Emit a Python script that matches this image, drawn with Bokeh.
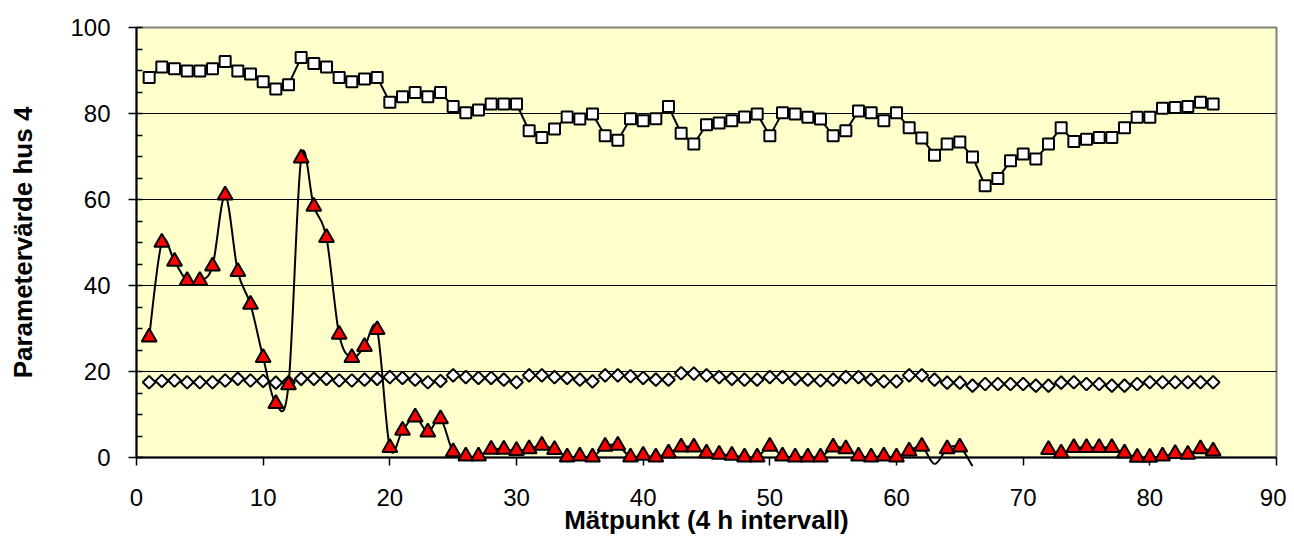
import math
from bokeh.plotting import figure
from bokeh.models import Range1d, SingleIntervalTicker, ColumnDataSource, CDSView, BooleanFilter
from bokeh.embed import file_html
from bokeh.resources import INLINE

# ---- data ----
matpunkt = list(range(1, 86))

squares = [88.4, 90.8, 90.4, 89.9, 89.9, 90.4, 92.1, 89.9, 89.2, 87.4,
           85.7, 86.7, 93.0, 91.6, 90.8, 88.4, 87.4, 88.0, 88.4, 82.6,
           83.9, 84.9, 83.9, 84.9, 81.6, 80.2, 80.8, 82.2, 82.2, 82.2,
           76.0, 74.4, 76.4, 79.2, 78.7, 79.9, 74.8, 73.8, 78.8, 78.3,
           78.8, 81.6, 75.4, 72.9, 77.4, 77.8, 78.3, 79.2, 79.9, 74.8,
           80.2, 79.9, 79.1, 78.7, 74.8, 76.0, 80.6, 80.2, 78.3, 80.2,
           76.7, 74.3, 70.3, 72.9, 73.4, 69.9, 63.2, 64.9, 69.0, 70.6,
           69.4, 72.9, 76.7, 73.5, 74.0, 74.4, 74.4, 76.7, 79.1, 79.1,
           81.2, 81.4, 81.6, 82.6, 82.2]

diamonds = [17.5, 17.8, 17.9, 17.5, 17.5, 17.5, 17.9, 18.3, 17.9, 17.8,
            17.4, 17.5, 18.3, 18.3, 18.3, 17.9, 17.9, 18.1, 18.3, 18.7,
            18.5, 18.1, 17.5, 17.8, 19.1, 18.7, 18.5, 18.5, 18.1, 17.5,
            19.1, 19.1, 18.7, 18.5, 18.1, 17.7, 19.1, 19.1, 18.9, 18.5,
            18.1, 18.1, 19.6, 19.5, 19.1, 18.7, 18.3, 18.1, 18.1, 18.7,
            18.7, 18.3, 18.1, 17.9, 18.1, 18.7, 18.7, 18.1, 17.7, 17.7,
            19.1, 19.1, 18.1, 17.4, 17.4, 16.7, 17.1, 17.1, 17.1, 17.1,
            16.7, 16.7, 17.4, 17.5, 17.1, 17.1, 16.7, 16.7, 17.1, 17.5,
            17.5, 17.5, 17.5, 17.5, 17.5]

nan = float("nan")
triangles = [28.0, 50.0, 45.6, 41.1, 41.1, 44.5, 61.0, 43.2, 35.6, 23.2,
             12.5, 16.9, 69.6, 58.4, 51.1, 28.6, 23.2, 25.8, 29.7, 2.3,
             6.3, 9.4, 5.9, 9.0, 1.3, 0.3, 0.3, 1.9, 1.9, 1.6,
             2.0, 2.8, 1.8, 0.1, 0.3, 0.1, 2.6, 2.8, 0.1, 0.5,
             0.1, 1.0, 2.4, 2.4, 1.0, 0.7, 0.5, 0.1, 0.1, 2.6,
             0.3, 0.1, 0.1, 0.1, 2.4, 2.0, 0.3, 0.1, 0.3, 0.1,
             1.5, 2.6, -1.5, 2.0, 2.4, -2.0, nan, nan, nan, nan,
             nan, 1.8, 1.0, 2.3, 2.3, 2.3, 2.3, 1.0, 0.0, 0.0,
             0.3, 0.9, 0.7, 2.0, 1.5]

x_ticks_interval = 10
y_ticks_interval = 20

FONT = "Liberation Sans"


def smooth_segments(xs, ys):
    """Catmull-Rom style Bezier control points (Excel 'smoothed line')."""
    n = len(xs)
    ok = lambda i: 0 <= i < n and not math.isnan(ys[i])
    d = dict(x0=[], y0=[], x1=[], y1=[], cx0=[], cy0=[], cx1=[], cy1=[])
    for i in range(n - 1):
        if not (ok(i) and ok(i + 1)):
            continue
        pm = i - 1 if ok(i - 1) else i
        pp = i + 2 if ok(i + 2) else i + 1
        d["x0"].append(xs[i]); d["y0"].append(ys[i])
        d["x1"].append(xs[i + 1]); d["y1"].append(ys[i + 1])
        d["cx0"].append(xs[i] + (xs[i + 1] - xs[pm]) / 6)
        d["cy0"].append(ys[i] + (ys[i + 1] - ys[pm]) / 6)
        d["cx1"].append(xs[i + 1] - (xs[pp] - xs[i]) / 6)
        d["cy1"].append(ys[i + 1] - (ys[pp] - ys[i]) / 6)
    return d


p = figure(width=1286, height=548, output_backend="svg", toolbar_location=None,
           x_range=Range1d(0, 90), y_range=Range1d(0, 100),
           min_border_left=136, min_border_right=10, min_border_top=27, min_border_bottom=91,
           background_fill_color="#FFFFCC", border_fill_color="white",
           outline_line_color="#808080", outline_line_width=2)

# axes
p.xaxis.ticker = SingleIntervalTicker(interval=x_ticks_interval, num_minor_ticks=0)
p.yaxis.ticker = SingleIntervalTicker(interval=y_ticks_interval, num_minor_ticks=4)
for ax in (p.xaxis[0], p.yaxis[0]):
    ax.axis_line_color = "black"
    ax.axis_line_width = 2
    ax.major_tick_line_color = "black"
    ax.major_tick_line_width = 1.5
    ax.major_tick_out = 8
    ax.major_tick_in = 0
    ax.minor_tick_line_color = "black"
    ax.minor_tick_line_width = 1.5
    ax.minor_tick_in = 6
    ax.minor_tick_out = 0
    ax.major_label_text_font = FONT
    ax.major_label_text_font_size = "24px"
    ax.major_label_text_color = "black"
    ax.axis_label_text_font = FONT
    ax.axis_label_text_font_size = "26px"
    ax.axis_label_text_font_style = "bold"
    ax.axis_label_text_color = "black"

p.xaxis.axis_label = "Mätpunkt (4 h intervall)"
p.yaxis.axis_label = "Parametervärde hus 4"
p.yaxis.major_label_standoff = 18
p.xaxis.major_label_standoff = 23
p.yaxis.axis_label_standoff = 29
p.xaxis.axis_label_standoff = -4

p.xgrid.visible = False
p.ygrid.grid_line_color = "black"
p.ygrid.grid_line_width = 1

# squares series
rs1 = p.line(matpunkt, squares, line_color="black", line_width=2)
ms1 = p.scatter(matpunkt, squares, marker="square", size=11, fill_color="white",
                line_color="black", line_width=2)

# diamonds series
rs2 = p.line(matpunkt, diamonds, line_color="#000080", line_width=1)
ms2 = p.scatter(matpunkt, diamonds, marker="square", angle=math.pi / 4, size=9,
                fill_color="white", line_color="black", line_width=2)

# triangles series (smoothed)
seg = smooth_segments(matpunkt, triangles)
rs3 = p.bezier(x0="x0", y0="y0", x1="x1", y1="y1", cx0="cx0", cy0="cy0",
               cx1="cx1", cy1="cy1", source=ColumnDataSource(seg),
               line_color="black", line_width=2)
tri_src = ColumnDataSource(dict(x=matpunkt, y=triangles))
view = CDSView(filter=BooleanFilter([(not math.isnan(v)) and v >= -0.5 for v in triangles]))
ms3 = p.scatter("x", "y", source=tri_src, view=view, marker="triangle", size=15,
                fill_color="#FF0000", line_color="black", line_width=2)

for r in (rs1, ms1, rs2, ms2, rs3, ms3):
    r.level = "overlay"

open("out.html", "w").write(file_html(p, INLINE))
